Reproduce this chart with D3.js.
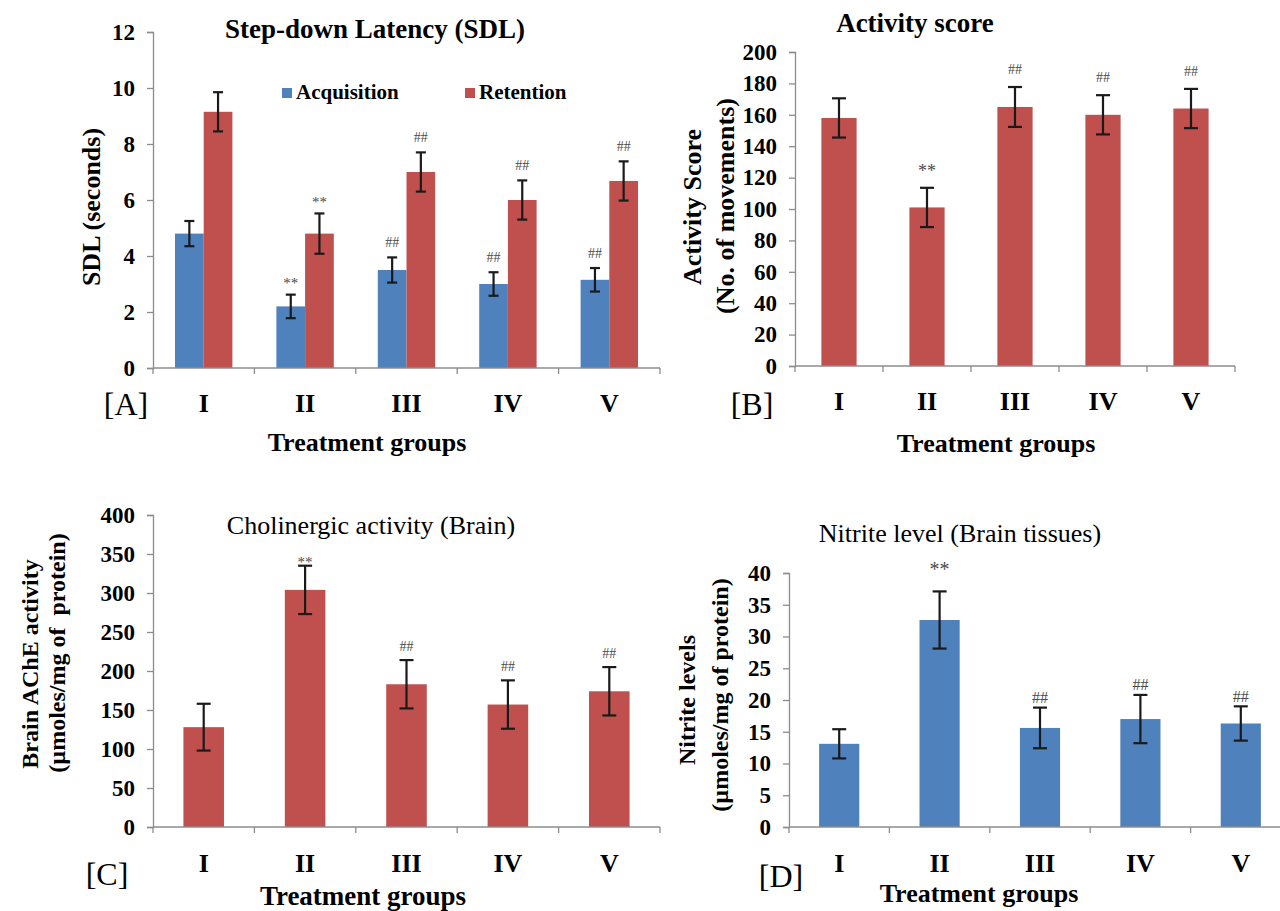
<!DOCTYPE html>
<html>
<head>
<meta charset="utf-8">
<script src="https://cdn.jsdelivr.net/npm/d3@7/dist/d3.min.js"></script>
<style>
    body { margin: 0; background: #fff; }
    svg text { font-family: "Liberation Serif", "Times New Roman", serif; }
</style>
</head>
<body>
<div id="chart"></div>
<script>
// groups on every x axis
const groups = ["I", "II", "III", "IV", "V"];

// [A] step-down latency, seconds
const sdlAcquisition    = [4.8, 2.2, 3.5, 3.0, 3.15];
const sdlAcquisitionErr = [0.45, 0.42, 0.45, 0.42, 0.42];
const sdlRetention      = [9.15, 4.8, 7.0, 6.0, 6.68];
const sdlRetentionErr   = [0.7, 0.72, 0.7, 0.7, 0.7];
const sdlAcquisitionSig = ["", "**", "##", "##", "##"];
const sdlRetentionSig   = ["", "**", "##", "##", "##"];
const sdlTicks = [0, 2, 4, 6, 8, 10, 12];

// [B] activity score
const activity    = [158, 101, 165, 160, 164];
const activityErr = [12.5, 12.5, 12.7, 12.5, 12.5];
const activitySig = ["", "**", "##", "##", "##"];
const activityTicks = [0, 20, 40, 60, 80, 100, 120, 140, 160, 180, 200];

// [C] brain AChE activity
const ache    = [128, 304, 183, 157, 174];
const acheErr = [30, 31, 31, 31, 31];
const acheSig = ["", "**", "##", "##", "##"];
const acheTicks = [0, 50, 100, 150, 200, 250, 300, 350, 400];

// [D] nitrite level
const nitrite    = [13.1, 32.6, 15.6, 17.0, 16.3];
const nitriteErr = [2.3, 4.5, 3.2, 3.8, 2.7];
const nitriteSig = ["", "**", "##", "##", "##"];
const nitriteTicks = [0, 5, 10, 15, 20, 25, 30, 35, 40];

const BLUE = "#4f81bd";
const RED  = "#c0504d";
const AXIS = "#8c8c8c";

const svg = d3.select("#chart").append("svg")
    .attr("width", 1280)
    .attr("height", 911);

function addText(x, y, str, size, weight, opts) {
    opts = opts || {};
    const t = svg.append("text")
        .attr("x", x)
        .attr("y", y)
        .attr("text-anchor", opts.anchor || "middle")
        .style("font-size", size + "px")
        .style("font-weight", weight)
        .style("white-space", "pre")
        .attr("fill", opts.fill || "#000")
        .text(str);
    if (opts.rotate) {
        t.attr("x", 0).attr("y", 0).attr("dy", "0.35em")
            .attr("transform", "translate(" + x + "," + y + ") rotate(-90)");
    }
    return t;
}

function renderPanel(p) {
    const x = d3.scaleBand().domain(groups).range([p.left, p.right]).padding(0);
    const y = d3.scaleLinear().domain([0, p.max]).range([p.bottom, p.top]);
    const step = x.bandwidth();
    const n = p.series.length;

    // inner scale for the series inside a group
    const xs = d3.scaleBand()
        .domain(d3.range(n))
        .range([step * (1 - p.groupFrac) / 2, step * (1 + p.groupFrac) / 2]);

    const g = svg.append("g");

    // y axis
    const ya = g.append("g")
        .attr("transform", "translate(" + p.left + ",0)")
        .call(d3.axisLeft(y).tickValues(p.ticks).tickSize(6).tickPadding(12));
    ya.select(".domain").attr("stroke", AXIS).attr("stroke-width", 1.3);
    ya.selectAll(".tick line").attr("stroke", AXIS).attr("stroke-width", 1.3);
    ya.selectAll(".tick text")
        .attr("fill", "#000")
        .style("font-family", '"Liberation Serif", "Times New Roman", serif')
        .style("font-size", "23px")
        .style("font-weight", "bold");

    // bars
    p.series.forEach(function (s, si) {
        g.selectAll(null)
            .data(s.values)
            .enter().append("rect")
            .attr("x", (d, i) => x(groups[i]) + xs(si))
            .attr("width", xs.bandwidth())
            .attr("y", d => y(d))
            .attr("height", d => y(0) - y(d))
            .attr("fill", s.color);
    });

    // x axis: line, boundary ticks, labels
    const xa = g.append("g")
        .attr("transform", "translate(0," + y(0) + ")")
        .call(d3.axisBottom(x).tickSize(0));
    xa.select(".domain").remove();
    xa.selectAll(".tick text")
        .attr("y", p.labelY)
        .attr("dy", 0)
        .attr("fill", "#000")
        .style("font-family", '"Liberation Serif", "Times New Roman", serif')
        .style("font-size", "26px")
        .style("font-weight", "bold");
    g.append("line")
        .attr("x1", p.left).attr("x2", p.right)
        .attr("y1", y(0)).attr("y2", y(0))
        .attr("stroke", AXIS).attr("stroke-width", 1.3);
    const bounds = groups.map(d => x(d)).concat([p.right]);
    g.selectAll(null)
        .data(bounds)
        .enter().append("line")
        .attr("x1", d => d).attr("x2", d => d)
        .attr("y1", y(0)).attr("y2", y(0) + 6)
        .attr("stroke", AXIS).attr("stroke-width", 1.3);

    // error bars and significance marks
    p.series.forEach(function (s, si) {
        const rows = s.values.map((v, i) => ({v: v, e: s.err[i], m: s.sig[i], i: i}));
        const cx = d => x(groups[d.i]) + xs(si) + xs.bandwidth() / 2;

        const eg = g.selectAll(null)
            .data(rows)
            .enter().append("g")
            .attr("stroke", "#1a1a1a")
            .attr("stroke-width", 2.2);
        eg.append("line")
            .attr("x1", cx).attr("x2", cx)
            .attr("y1", d => y(d.v - d.e))
            .attr("y2", d => y(d.v + d.e));
        [1, -1].forEach(function (sign) {
            eg.append("line")
                .attr("x1", d => cx(d) - p.cap / 2)
                .attr("x2", d => cx(d) + p.cap / 2)
                .attr("y1", d => y(d.v + sign * d.e))
                .attr("y2", d => y(d.v + sign * d.e));
        });

        g.selectAll(null)
            .data(rows.filter(d => d.m !== ""))
            .enter().append("text")
            .attr("x", cx)
            .attr("y", function (d) {
                const top = y(d.v + d.e);
                return d.m === "**" ? top - p.starGap + p.starSize * 0.5
                                    : top - p.hashGap + p.hashSize * 0.33;
            })
            .attr("text-anchor", "middle")
            .attr("fill", "#4a4a4a")
            .style("font-size", d => (d.m === "**" ? p.starSize : p.hashSize) + "px")
            .text(d => d.m);
    });
}

// ---------- [A]
renderPanel({
    left: 153, right: 660, top: 32, bottom: 368, max: 12, ticks: sdlTicks,
    groupFrac: 0.566, cap: 10, labelY: 44,
    starGap: 14, starSize: 15, hashGap: 15, hashSize: 14,
    series: [
        {values: sdlAcquisition, err: sdlAcquisitionErr, sig: sdlAcquisitionSig, color: BLUE},
        {values: sdlRetention, err: sdlRetentionErr, sig: sdlRetentionSig, color: RED}
    ]
});
addText(375, 38, "Step-down Latency (SDL)", 27, "bold");
svg.append("rect").attr("x", 282).attr("y", 88).attr("width", 10).attr("height", 10).attr("fill", BLUE);
addText(296, 99, "Acquisition", 21, "bold", {anchor: "start"});
svg.append("rect").attr("x", 465).attr("y", 88).attr("width", 10).attr("height", 10).attr("fill", RED);
addText(479, 99, "Retention", 21, "bold", {anchor: "start"});
addText(91, 207, "SDL (seconds)", 26, "bold", {rotate: true});
addText(126, 415, "[A]", 32, "normal");
addText(367, 451, "Treatment groups", 26, "bold");

// ---------- [B]
renderPanel({
    left: 795, right: 1235, top: 52, bottom: 366, max: 200, ticks: activityTicks,
    groupFrac: 0.4, cap: 14, labelY: 44,
    starGap: 20, starSize: 18, hashGap: 18, hashSize: 14,
    series: [{values: activity, err: activityErr, sig: activitySig, color: RED}]
});
addText(915, 32, "Activity score", 27, "bold");
addText(692, 207, "Activity Score", 26, "bold", {rotate: true});
addText(725, 206, "(No. of movements)", 26, "bold", {rotate: true});
addText(752, 415, "[B]", 32, "normal");
addText(996, 452, "Treatment groups", 26, "bold");

// ---------- [C]
renderPanel({
    left: 153, right: 660, top: 515, bottom: 827, max: 400, ticks: acheTicks,
    groupFrac: 0.4, cap: 14, labelY: 45,
    starGap: 6, starSize: 15, hashGap: 14, hashSize: 14,
    series: [{values: ache, err: acheErr, sig: acheSig, color: RED}]
});
addText(371, 534, "Cholinergic activity (Brain)", 26, "normal");
addText(30, 664, "Brain AChE activity", 24, "bold", {rotate: true});
addText(57, 653, "(µmoles/mg of  protein)", 24, "bold", {rotate: true});
addText(107, 885, "[C]", 32, "normal");
addText(363, 905, "Treatment groups", 27, "bold");

// ---------- [D]
renderPanel({
    left: 789, right: 1291, top: 573, bottom: 827, max: 40, ticks: nitriteTicks,
    groupFrac: 0.4, cap: 14, labelY: 45,
    starGap: 25, starSize: 20, hashGap: 10, hashSize: 16,
    series: [{values: nitrite, err: nitriteErr, sig: nitriteSig, color: BLUE}]
});
addText(960, 542, "Nitrite level (Brain tissues)", 26, "normal");
addText(687, 700, "Nitrite levels", 24, "bold", {rotate: true});
addText(720, 695, "(µmoles/mg of protein)", 24, "bold", {rotate: true});
addText(781, 887, "[D]", 32, "normal");
addText(979, 902, "Treatment groups", 26, "bold");
</script>
</body>
</html>
